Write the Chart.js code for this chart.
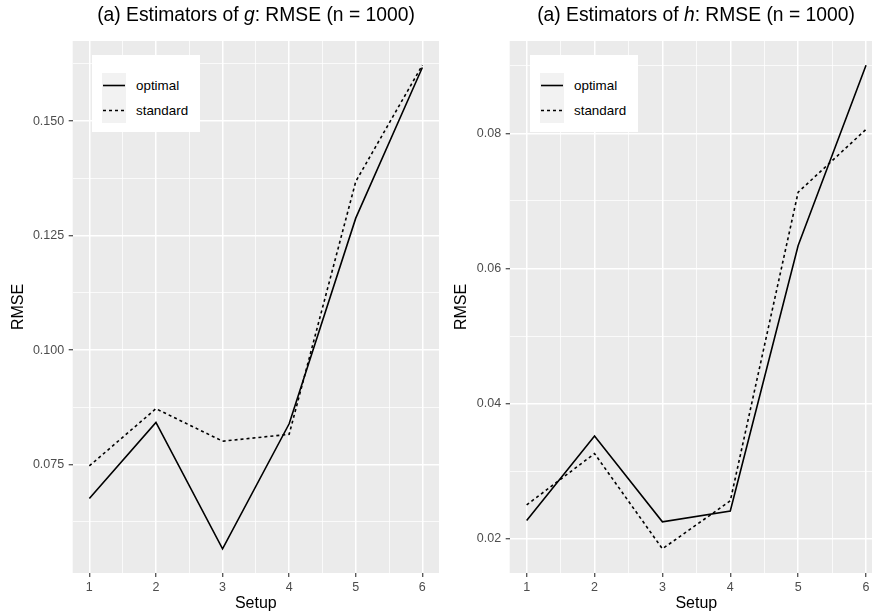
<!DOCTYPE html>
<html>
<head>
<meta charset="utf-8">
<script src="https://cdn.jsdelivr.net/npm/chart.js@4.4.1/dist/chart.umd.min.js"></script>
<style>
  body { margin: 0; width: 872px; height: 614px; overflow: hidden; background: #fff; position: relative;
         font-family: "Liberation Sans", Arial, Helvetica, sans-serif; }
  .panel { position: absolute; top: 0; height: 614px; }
  .title { position: absolute; top: 4px; font-size: 19.3px; line-height: 22px; white-space: nowrap;
           transform: translateX(-50%); color: #000; }
  .legend { position: absolute; top: 55px; width: 108px; height: 77px; background: #fff; }
  .key { position: absolute; left: 10px; width: 24px; height: 25px; background: #f2f2f2; }
  .key svg { display: block; }
  .lab { position: absolute; left: 44px; font-size: 13.4px; line-height: 25px; color: #000; }
</style>
</head>
<body>

<div class="panel" style="left:0;width:439px"><canvas id="chartG"></canvas></div>
<div class="panel" style="left:440px;width:443px"><canvas id="chartH"></canvas></div>

<div class="title" style="left:256px">(a) Estimators of <i>g</i>: RMSE (n = 1000)</div>
<div class="title" style="left:696px">(a) Estimators of <i>h</i>: RMSE (n = 1000)</div>

<div class="legend" style="left:92px">
  <div class="key" style="top:18px"><svg width="24" height="25"><line x1="1" y1="12.5" x2="23" y2="12.5" stroke="#000" stroke-width="1.6"/></svg></div>
  <div class="lab" style="top:18px">optimal</div>
  <div class="key" style="top:43px"><svg width="24" height="25"><line x1="1" y1="12.5" x2="23" y2="12.5" stroke="#000" stroke-width="1.6" stroke-dasharray="3 3"/></svg></div>
  <div class="lab" style="top:43px">standard</div>
</div>
<div class="legend" style="left:530px">
  <div class="key" style="top:18px"><svg width="24" height="25"><line x1="1" y1="12.5" x2="23" y2="12.5" stroke="#000" stroke-width="1.6"/></svg></div>
  <div class="lab" style="top:18px">optimal</div>
  <div class="key" style="top:43px"><svg width="24" height="25"><line x1="1" y1="12.5" x2="23" y2="12.5" stroke="#000" stroke-width="1.6" stroke-dasharray="3 3"/></svg></div>
  <div class="lab" style="top:43px">standard</div>
</div>

<script>
// Dữ liệu
var setups = [1, 2, 3, 4, 5, 6];
var gOptimal = [0.0676, 0.0842, 0.0566, 0.0839, 0.1288, 0.1617];
var gStandard = [0.0747, 0.0872, 0.0801, 0.0816, 0.1368, 0.1622];
var hOptimal = [0.0227, 0.0352, 0.0225, 0.0241, 0.0634, 0.0901];
var hStandard = [0.0250, 0.0326, 0.0185, 0.0256, 0.0713, 0.0806];
var gMajor = [0.075, 0.100, 0.125, 0.150];
var gMinor = [0.0625, 0.0875, 0.1125, 0.1375, 0.1625];
var hMajor = [0.02, 0.04, 0.06, 0.08];
var hMinor = [0.03, 0.05, 0.07, 0.09];
var xMajor = [1, 2, 3, 4, 5, 6];
var xMinor = [1.5, 2.5, 3.5, 4.5, 5.5];

var font = '"Liberation Sans", Arial, Helvetica, sans-serif';

// Nền xám cho vùng vẽ
var panelBg = {
    id: 'panelBg',
    beforeDraw: function (chart) {
        var a = chart.chartArea;
        var ctx = chart.ctx;
        ctx.save();
        ctx.fillStyle = '#ebebeb';
        ctx.fillRect(a.left, a.top, a.right - a.left, a.bottom - a.top);
        ctx.restore();
    }
};

function makeTicks(major, minor) {
    var t = major.map(function (v) { return { value: v, minor: false }; })
        .concat(minor.map(function (v) { return { value: v, minor: true }; }));
    t.sort(function (a, b) { return a.value - b.value; });
    return t;
}

function toPoints(ys) {
    return setups.map(function (x, i) { return { x: x, y: ys[i] }; });
}

function drawPanel(id, optimal, standard, major, minor, decimals, yWidth, yTitlePad) {
    var all = optimal.concat(standard);
    var lo = Math.min.apply(null, all), hi = Math.max.apply(null, all);
    var pad = (hi - lo) * 0.05;
    var gridColor = function () { return '#ffffff'; };
    var gridWidth = function (c) { return c.tick && c.tick.minor ? 0.75 : 1.5; };
    var tickColor = function (c) { return c.tick && c.tick.minor ? 'rgba(0,0,0,0)' : '#333333'; };

    return new Chart(document.getElementById(id).getContext('2d'), {
        type: 'line',
        data: {
            datasets: [{
                label: 'optimal',
                data: toPoints(optimal),
                borderColor: '#000',
                borderWidth: 1.6,
                pointRadius: 0,
                tension: 0
            }, {
                label: 'standard',
                data: toPoints(standard),
                borderColor: '#000',
                borderWidth: 1.6,
                borderDash: [3, 3],
                pointRadius: 0,
                tension: 0
            }]
        },
        options: {
            responsive: true,
            maintainAspectRatio: false,
            animation: false,
            layout: { padding: { top: 41, right: 0, left: 0, bottom: 0 } },
            plugins: { legend: { display: false }, tooltip: { enabled: false }, title: { display: false } },
            scales: {
                x: {
                    type: 'linear',
                    min: 0.75,
                    max: 6.25,
                    afterBuildTicks: function (s) { s.ticks = makeTicks(xMajor, xMinor); },
                    afterFit: function (s) { s.height = 41; },
                    border: { display: false },
                    grid: { color: gridColor, lineWidth: gridWidth, tickColor: tickColor, tickWidth: 1.1, tickLength: 4 },
                    ticks: {
                        autoSkip: false, maxRotation: 0, padding: 3,
                        color: '#4d4d4d', font: { family: font, size: 12.5 },
                        callback: function (v, i, t) { return t[i].minor ? '' : String(v); }
                    },
                    title: { display: true, text: 'Setup', color: '#000', font: { family: font, size: 16 },
                             padding: { top: 0, bottom: 0.5 } }
                },
                y: {
                    type: 'linear',
                    min: lo - pad,
                    max: hi + pad,
                    afterBuildTicks: function (s) { s.ticks = makeTicks(major, minor); },
                    afterFit: function (s) { s.width = yWidth; },
                    border: { display: false },
                    grid: { color: gridColor, lineWidth: gridWidth, tickColor: tickColor, tickWidth: 1.1, tickLength: 4 },
                    ticks: {
                        autoSkip: false, padding: 4.5,
                        color: '#4d4d4d', font: { family: font, size: 12.5 },
                        callback: function (v, i, t) { return t[i].minor ? '' : v.toFixed(decimals); }
                    },
                    title: { display: true, text: 'RMSE', color: '#000', font: { family: font, size: 16 },
                             padding: { top: yTitlePad, bottom: 0 } }
                }
            }
        },
        plugins: [panelBg]
    });
}

drawPanel('chartG', gOptimal, gStandard, gMajor, gMinor, 3, 72.7, 9.4);
drawPanel('chartH', hOptimal, hStandard, hMajor, hMinor, 2, 69.7, 12.1);
</script>
</body>
</html>
